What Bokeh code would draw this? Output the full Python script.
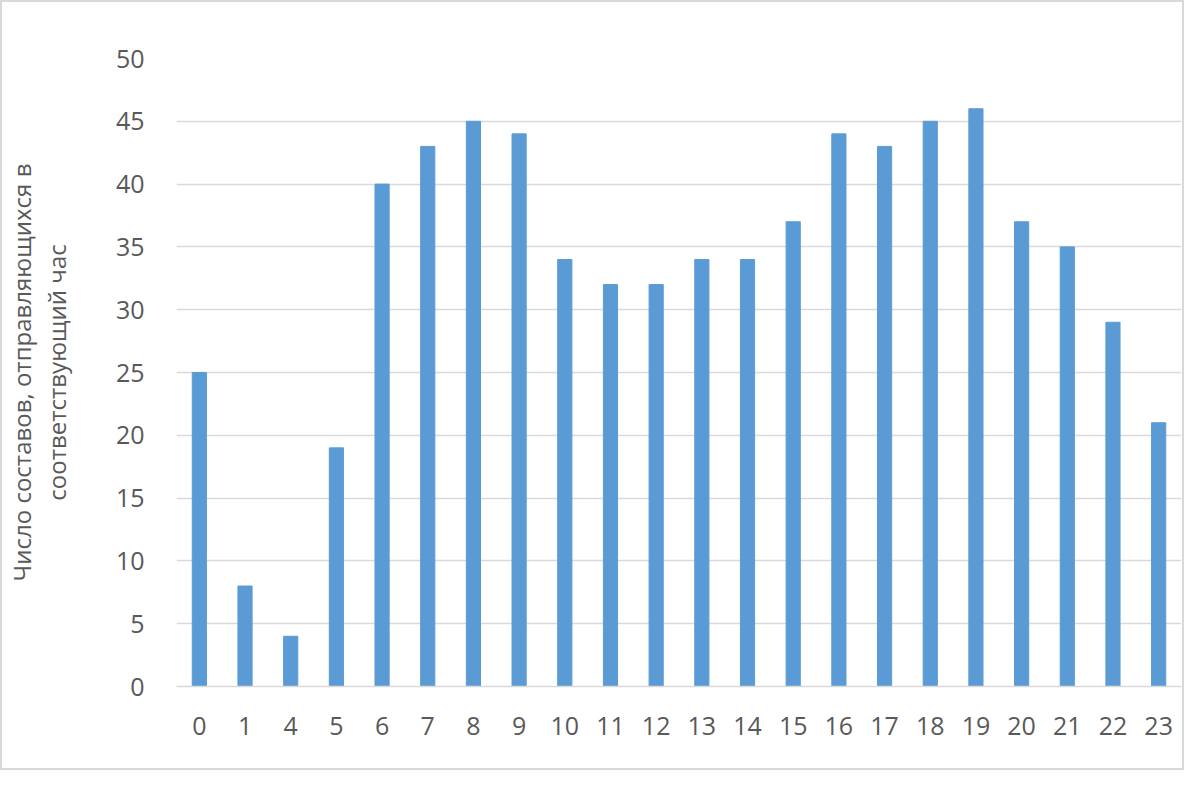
from bokeh.plotting import figure
from bokeh.models import FactorRange, Range1d, FixedTicker, ColumnDataSource
from bokeh.embed import file_html
from bokeh.resources import INLINE

hours = ["0", "1", "4", "5", "6", "7", "8", "9", "10", "11", "12", "13", "14",
         "15", "16", "17", "18", "19", "20", "21", "22", "23"]
trains = [25, 8, 4, 19, 40, 43, 45, 44, 34, 32, 32, 34, 34, 37, 44, 43, 45, 46,
          37, 35, 29, 21]
y_ticks = [0, 5, 10, 15, 20, 25, 30, 35, 40, 45, 50]
y_title = "Число составов, отправляющихся в\nсоответствующий час"

FONT = "Open Sans"
GREY = "#595959"

src = ColumnDataSource(dict(h=hours, v=trains))

p = figure(width=1184, height=770, output_backend="svg", toolbar_location=None,
           x_range=FactorRange(factors=hours, range_padding=0),
           y_range=Range1d(0, 50),
           min_border_left=173, min_border_right=5, min_border_top=56,
           min_border_bottom=86)
p.vbar(x="h", top="v", width=0.31, source=src, color="#5b9bd5",
       line_color="#5b9bd5")

p.outline_line_color = None
p.xgrid.grid_line_color = None
p.ygrid.grid_line_color = "#d9d9d9"
p.ygrid.grid_line_width = 1.5
p.yaxis.ticker = FixedTicker(ticks=y_ticks)

for ax in (p.xaxis[0], p.yaxis[0]):
    ax.major_tick_line_color = None
    ax.minor_tick_line_color = None
    ax.major_label_text_font = FONT
    ax.major_label_text_font_size = "25px"
    ax.major_label_text_color = GREY

p.yaxis.axis_line_color = None
p.yaxis.major_label_standoff = 26
p.xaxis.axis_line_color = "#d9d9d9"
p.xaxis.axis_line_width = 1.5
p.xaxis.major_label_standoff = 24

p.yaxis.axis_label = y_title
p.yaxis.axis_label_text_font = FONT
p.yaxis.axis_label_text_font_size = "24px"
p.yaxis.axis_label_text_font_style = "normal"
p.yaxis.axis_label_text_color = GREY
p.yaxis.axis_label_text_line_height = 1.05
p.yaxis.axis_label_standoff = 40

p.styles = {"border": "2px solid #d9d9d9", "box-sizing": "border-box"}

open("out.html", "w").write(file_html(p, INLINE))
